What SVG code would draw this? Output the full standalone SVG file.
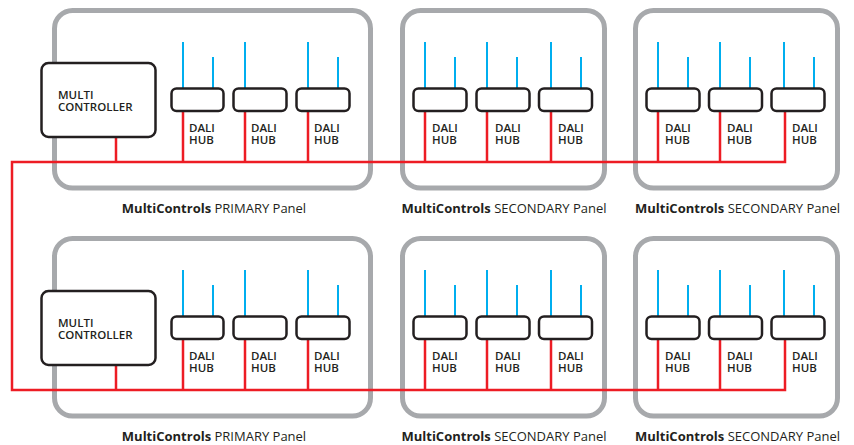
<svg xmlns="http://www.w3.org/2000/svg" width="854" height="445" viewBox="0 0 854 445">
<style>
.panel{fill:#fff;stroke:#a7a9ac;stroke-width:5}
.box{fill:#fff;stroke:#231f20;stroke-width:2.5}
.red{fill:none;stroke:#ed1c24;stroke-width:2.5}
.blue{fill:none;stroke:#00aeef;stroke-width:2}
.t{font-family:"Open Sans","Liberation Sans",sans-serif;font-size:11.5px;font-weight:600;fill:#231f20}
.lbl{font-family:"Open Sans","Liberation Sans",sans-serif;font-size:13px;fill:#231f20;text-anchor:middle}
.lbl tspan.b{font-weight:700}
</style>
<rect width="854" height="445" fill="#fff"/>
<g id="panels">
<g id="panel-p1"><rect class="panel" x="54.5" y="10.5" width="316" height="177.5" rx="18"/><text class="lbl" x="214" y="213"><tspan class="b">MultiControls</tspan> PRIMARY Panel</text></g>
<g id="panel-s1"><rect class="panel" x="402.5" y="10.5" width="202" height="177.5" rx="18"/><text class="lbl" x="504" y="213"><tspan class="b">MultiControls</tspan> SECONDARY Panel</text></g>
<g id="panel-s2"><rect class="panel" x="635.5" y="10.5" width="202" height="177.5" rx="18"/><text class="lbl" x="737.5" y="213"><tspan class="b">MultiControls</tspan> SECONDARY Panel</text></g>
<g id="panel-p2"><rect class="panel" x="54.5" y="238.5" width="316" height="177.5" rx="18"/><text class="lbl" x="214" y="441"><tspan class="b">MultiControls</tspan> PRIMARY Panel</text></g>
<g id="panel-s3"><rect class="panel" x="402.5" y="238.5" width="202" height="177.5" rx="18"/><text class="lbl" x="504" y="441"><tspan class="b">MultiControls</tspan> SECONDARY Panel</text></g>
<g id="panel-s4"><rect class="panel" x="635.5" y="238.5" width="202" height="177.5" rx="18"/><text class="lbl" x="737.5" y="441"><tspan class="b">MultiControls</tspan> SECONDARY Panel</text></g>
</g>
<g id="connectors">
<path class="red" d="M785,111V162H12V390H785V339"/>
<path class="red" d="M116,137V162M183,111V162M245,111V162M308,111V162M425,111V162M487,111V162M551,111V162M658,111V162M720,111V162"/>
<path class="red" d="M116,365V390M183,339V390M245,339V390M308,339V390M425,339V390M487,339V390M551,339V390M658,339V390M720,339V390"/>
<path class="blue" d="M183,42V88M213,57V88M245,42V88M308,42V88M338,57V88M425,42V88M455,57V88M487,42V88M517,57V88M551,42V88M581,57V88M658,42V88M688,57V88M720,42V88M750,57V88M784,42V88M814,57V88"/>
<path class="blue" d="M183,270V316M213,285V316M245,270V316M308,270V316M338,285V316M425,270V316M455,285V316M487,270V316M517,285V316M551,270V316M581,285V316M658,270V316M688,285V316M720,270V316M750,285V316M784,270V316M814,285V316"/>
</g>
<g id="ctrl-1"><rect class="box" x="41.5" y="63" width="114" height="74" rx="7"/><text class="t" x="58" y="99">MULTI<tspan x="58" dy="12">CONTROLLER</tspan></text></g>
<g id="ctrl-2"><rect class="box" x="41.5" y="291" width="114" height="74" rx="7"/><text class="t" x="58" y="327">MULTI<tspan x="58" dy="12">CONTROLLER</tspan></text></g>
<g id="hub-1-1"><rect class="box" x="171.5" y="88.5" width="52" height="22.5" rx="5"/><text class="t" x="189" y="132">DALI<tspan x="189" dy="12">HUB</tspan></text></g>
<g id="hub-1-2"><rect class="box" x="233.5" y="88.5" width="53" height="22.5" rx="5"/><text class="t" x="251" y="132">DALI<tspan x="251" dy="12">HUB</tspan></text></g>
<g id="hub-1-3"><rect class="box" x="296.5" y="88.5" width="53" height="22.5" rx="5"/><text class="t" x="314" y="132">DALI<tspan x="314" dy="12">HUB</tspan></text></g>
<g id="hub-2-1"><rect class="box" x="413.5" y="88.5" width="53" height="22.5" rx="5"/><text class="t" x="432" y="132">DALI<tspan x="432" dy="12">HUB</tspan></text></g>
<g id="hub-2-2"><rect class="box" x="476.5" y="88.5" width="53" height="22.5" rx="5"/><text class="t" x="495" y="132">DALI<tspan x="495" dy="12">HUB</tspan></text></g>
<g id="hub-2-3"><rect class="box" x="539" y="88.5" width="53" height="22.5" rx="5"/><text class="t" x="558" y="132">DALI<tspan x="558" dy="12">HUB</tspan></text></g>
<g id="hub-3-1"><rect class="box" x="646.5" y="88.5" width="53" height="22.5" rx="5"/><text class="t" x="665" y="132">DALI<tspan x="665" dy="12">HUB</tspan></text></g>
<g id="hub-3-2"><rect class="box" x="709" y="88.5" width="53" height="22.5" rx="5"/><text class="t" x="727" y="132">DALI<tspan x="727" dy="12">HUB</tspan></text></g>
<g id="hub-3-3"><rect class="box" x="771.5" y="88.5" width="53" height="22.5" rx="5"/><text class="t" x="792" y="132">DALI<tspan x="792" dy="12">HUB</tspan></text></g>
<g id="hub-4-1"><rect class="box" x="171.5" y="316.5" width="52" height="22.5" rx="5"/><text class="t" x="189" y="360">DALI<tspan x="189" dy="12">HUB</tspan></text></g>
<g id="hub-4-2"><rect class="box" x="233.5" y="316.5" width="53" height="22.5" rx="5"/><text class="t" x="251" y="360">DALI<tspan x="251" dy="12">HUB</tspan></text></g>
<g id="hub-4-3"><rect class="box" x="296.5" y="316.5" width="53" height="22.5" rx="5"/><text class="t" x="314" y="360">DALI<tspan x="314" dy="12">HUB</tspan></text></g>
<g id="hub-5-1"><rect class="box" x="413.5" y="316.5" width="53" height="22.5" rx="5"/><text class="t" x="432" y="360">DALI<tspan x="432" dy="12">HUB</tspan></text></g>
<g id="hub-5-2"><rect class="box" x="476.5" y="316.5" width="53" height="22.5" rx="5"/><text class="t" x="495" y="360">DALI<tspan x="495" dy="12">HUB</tspan></text></g>
<g id="hub-5-3"><rect class="box" x="539" y="316.5" width="53" height="22.5" rx="5"/><text class="t" x="558" y="360">DALI<tspan x="558" dy="12">HUB</tspan></text></g>
<g id="hub-6-1"><rect class="box" x="646.5" y="316.5" width="53" height="22.5" rx="5"/><text class="t" x="665" y="360">DALI<tspan x="665" dy="12">HUB</tspan></text></g>
<g id="hub-6-2"><rect class="box" x="709" y="316.5" width="53" height="22.5" rx="5"/><text class="t" x="727" y="360">DALI<tspan x="727" dy="12">HUB</tspan></text></g>
<g id="hub-6-3"><rect class="box" x="771.5" y="316.5" width="53" height="22.5" rx="5"/><text class="t" x="792" y="360">DALI<tspan x="792" dy="12">HUB</tspan></text></g>
</svg>
